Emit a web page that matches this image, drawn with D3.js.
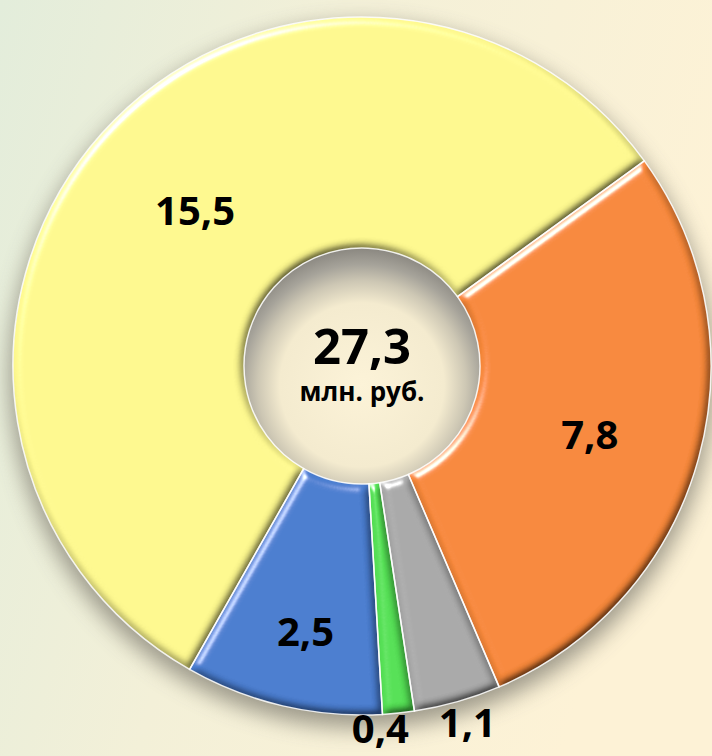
<!DOCTYPE html>
<html>
<head>
<meta charset="utf-8">
<script src="https://cdn.jsdelivr.net/npm/d3@7"></script>
<style>
  body { margin: 0; }
  svg { display: block; }
</style>
</head>
<body>
<script>
// data, in drawing order (clockwise from the top right)
const categories = ['orange', 'gray', 'green', 'blue', 'yellow']
const values = [7.8, 1.1, 0.4, 2.5, 15.5]
const labels = ['7,8', '1,1', '0,4', '2,5', '15,5']
const totalLabel = '27,3'
const unitLabel = 'млн. руб.'

var w = 712
var h = 756
var cx = 362
var cy = 366
var outerR = 349
var innerR = 118
var startDeg = 54

const colors = {
  orange: '#f7883a',
  gray: '#a9a9a9',
  green: '#55e055',
  blue: '#4a7dcf',
  yellow: '#fdf88e'
}

var svg = d3.select('body')
  .append('svg')
  .attr('width', w)
  .attr('height', h)

const defs = svg.append('defs')

const bg = defs.append('linearGradient').attr('id', 'bg')
  .attr('x1', 0).attr('y1', 0).attr('x2', 1).attr('y2', 0.3)
bg.append('stop').attr('offset', 0).attr('stop-color', '#e3eddb')
bg.append('stop').attr('offset', 0.45).attr('stop-color', '#f3f0d8')
bg.append('stop').attr('offset', 1).attr('stop-color', '#fdf2d6')

const hole = defs.append('radialGradient').attr('id', 'hole')
  .attr('cx', 0.5).attr('cy', 0.58).attr('r', 0.58)
hole.append('stop').attr('offset', 0).attr('stop-color', '#fcf3d8')
hole.append('stop').attr('offset', 0.6).attr('stop-color', '#f4ebcf')
hole.append('stop').attr('offset', 0.76).attr('stop-color', '#cdc7b4')
hole.append('stop').attr('offset', 0.88).attr('stop-color', '#a6a39a')
hole.append('stop').attr('offset', 1).attr('stop-color', '#8a8780')

const shadow = defs.append('filter').attr('id', 'shadow')
  .attr('x', -0.2).attr('y', -0.2).attr('width', 1.4).attr('height', 1.4)
shadow.append('feGaussianBlur').attr('stdDeviation', 11)

// bevel: diffuse light keeps flat areas as they are, edges get lit or shaded
const bevel = defs.append('filter').attr('id', 'bevel')
bevel.append('feGaussianBlur').attr('in', 'SourceAlpha').attr('stdDeviation', 4.5).attr('result', 'blur')
bevel.append('feDiffuseLighting').attr('in', 'blur').attr('surfaceScale', 6)
  .attr('diffuseConstant', 1.0 / Math.sin(55 * Math.PI / 180)).attr('lighting-color', '#fff').attr('result', 'diff')
  .append('feDistantLight').attr('azimuth', 235).attr('elevation', 55)
bevel.append('feSpecularLighting').attr('in', 'blur').attr('surfaceScale', 6)
  .attr('specularConstant', 1.0).attr('specularExponent', 30).attr('lighting-color', '#fff').attr('result', 'spec')
  .append('feDistantLight').attr('azimuth', 235).attr('elevation', 28)
bevel.append('feComposite').attr('in', 'SourceGraphic').attr('in2', 'diff')
  .attr('operator', 'arithmetic').attr('k1', 1).attr('k2', 0).attr('k3', 0).attr('k4', 0).attr('result', 'lit')
bevel.append('feComposite').attr('in', 'spec').attr('in2', 'SourceAlpha').attr('operator', 'in').attr('result', 'specIn')
bevel.append('feComposite').attr('in', 'lit').attr('in2', 'specIn')
  .attr('operator', 'arithmetic').attr('k1', 0).attr('k2', 1).attr('k3', 1).attr('k4', 0).attr('result', 'out')
bevel.append('feComposite').attr('in', 'out').attr('in2', 'SourceAlpha').attr('operator', 'in')

svg.append('rect')
  .attr('width', w)
  .attr('height', h)
  .attr('fill', 'url(#bg)')

const g = svg.append('g')
  .attr('transform', 'translate(' + cx + ',' + cy + ')')

const start = startDeg * Math.PI / 180
const pie = d3.pie().sort(null).startAngle(start).endAngle(start + 2 * Math.PI)
const arcs = pie(values)

const arc = d3.arc().innerRadius(innerR).outerRadius(outerR)

// soft shadow round the ring
g.append('path')
  .attr('d', d3.arc().innerRadius(innerR + 8).outerRadius(outerR + 3).startAngle(0).endAngle(2 * Math.PI)())
  .attr('transform', 'translate(0,10)')
  .attr('fill', '#858276')
  .attr('opacity', 0.8)
  .attr('filter', 'url(#shadow)')

// hole
g.append('circle')
  .attr('r', innerR)
  .attr('fill', 'url(#hole)')

g.selectAll('path.slice')
  .data(arcs)
  .enter()
  .append('path')
  .attr('class', 'slice')
  .attr('d', arc)
  .attr('fill', (d, i) => colors[categories[i]])
  .attr('filter', 'url(#bevel)')

g.selectAll('path.edge')
  .data(arcs)
  .enter()
  .append('path')
  .attr('class', 'edge')
  .attr('d', arc)
  .attr('fill', 'none')
  .attr('stroke', '#fff')
  .attr('stroke-width', 1.5)
  .attr('stroke-opacity', 0.85)

// label positions, as radius and angle offset from each slice middle
const labelPos = [
  { r: 238, da: 0.025 },
  { r: 372, da: -0.01 },
  { r: 363, da: 0.054 },
  { r: 272, da: -0.02 },
  { r: 228, da: 0.02 }
]

g.selectAll('text.val')
  .data(arcs)
  .enter()
  .append('text')
  .attr('class', 'val')
  .attr('transform', (d, i) => {
    const a = (d.startAngle + d.endAngle) / 2 + labelPos[i].da
    const r = labelPos[i].r
    return 'translate(' + (r * Math.sin(a)) + ',' + (-r * Math.cos(a)) + ')'
  })
  .attr('text-anchor', 'middle')
  .attr('dy', '0.36em')
  .style('font-family', '"Open Sans", sans-serif')
  .style('font-weight', 'bold')
  .style('font-size', '40px')
  .attr('fill', '#000')
  .text((d, i) => labels[i])

g.append('text')
  .attr('y', -20)
  .attr('dy', '0.36em')
  .attr('text-anchor', 'middle')
  .style('font-family', '"Open Sans", sans-serif')
  .style('font-weight', 'bold')
  .style('font-size', '49px')
  .attr('fill', '#000')
  .text(totalLabel)

g.append('text')
  .attr('y', 26)
  .attr('dy', '0.36em')
  .attr('text-anchor', 'middle')
  .style('font-family', '"Open Sans", sans-serif')
  .style('font-weight', 'bold')
  .style('font-size', '26px')
  .attr('fill', '#000')
  .text(unitLabel)
</script>
</body>
</html>
